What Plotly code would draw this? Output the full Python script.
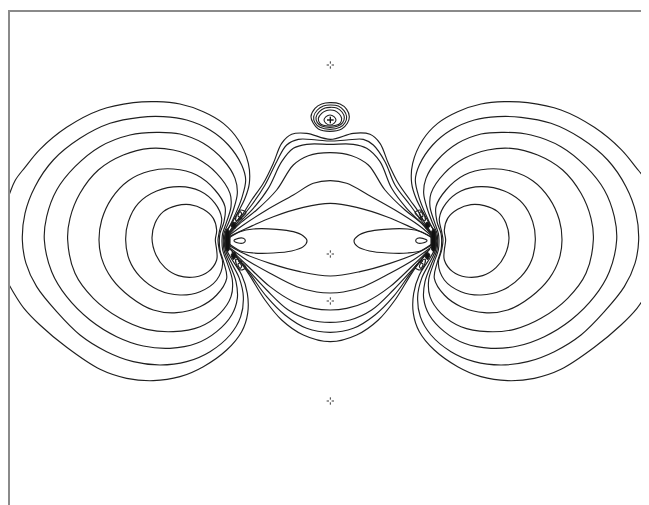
import plotly.graph_objects as go

# Lobe contours (units: 1/3 px, x from image left, y from image row 90)
lobe_1 = [(-15,450),(-5,380),(25,320),(45,272),(75,232),(120,178),(200,112),(300,60),(400,38),(470,35),(540,42),(610,65),(670,100),(715,150),(745,220),(748,280),(735,325),(715,365),(695,400),(680,425),(677,450),(680,480),(700,515),(725,555),(742,610),(743,670),(725,725),(680,780),(610,830),(540,860),(460,872),(380,865),(300,838),(200,772),(120,705),(72,655),(45,615),(25,580),(-5,520),(-15,450)]
lobe_2 = [(67,450),(75,370),(105,290),(160,210),(240,145),(330,100),(420,82),(490,80),(560,90),(630,120),(685,165),(725,225),(737,270),(725,325),(705,375),(688,410),(676,430),(673,450),(676,480),(695,520),(718,565),(730,620),(722,680),(690,735),(630,785),(560,815),(480,825),(400,815),(320,785),(240,735),(170,665),(110,590),(78,520),(67,450)]
lobe_3 = [(133,450),(140,380),(170,300),(225,230),(300,170),(390,135),(470,127),(540,132),(610,160),(670,210),(705,265),(712,310),(700,360),(685,400),(672,430),(670,450),(672,480),(690,525),(708,575),(712,625),(695,675),(650,725),(590,760),(510,775),(430,768),(350,740),(270,690),(200,620),(155,545),(133,450)]
lobe_4 = [(203,450),(210,385),(240,310),(295,240),(370,195),(450,175),(520,180),(590,205),(650,250),(690,310),(693,350),(680,395),(668,430),(666,450),(668,480),(682,520),(697,570),(693,620),(660,670),(600,710),(520,725),(440,718),(360,685),(280,625),(225,550),(203,450)]
lobe_5 = [(297,450),(305,390),(335,325),(385,272),(450,243),(520,237),(590,255),(645,300),(675,350),(672,395),(660,430),(658,450),(660,480),(672,520),(680,565),(650,615),(600,650),(530,668),(460,660),(390,620),(335,565),(305,505),(297,450)]
lobe_6 = [(377,450),(385,395),(415,340),(470,303),(540,290),(600,303),(645,340),(665,385),(658,425),(654,450),(658,480),(668,520),(650,570),(600,605),(540,615),(475,600),(420,560),(388,510),(377,450)]
lobe_7 = [(456,445),(465,400),(490,365),(530,347),(570,344),(610,358),(640,385),(650,420),(646,450),(650,480),(650,510),(625,545),(585,561),(535,557),(495,533),(468,495),(456,445)]
lobes = [lobe_1, lobe_2, lobe_3, lobe_4, lobe_5, lobe_6, lobe_7]

# Central contours (units: 1/3 px, x from image column 210, y from image row 90)
top_1 = [(55,430),(75,400),(100,370),(125,330),(160,280),(190,220),(215,160),(245,133),(290,130),(361,148),(430,130),(480,133),(510,160),(535,220),(565,280),(600,330),(625,365),(645,400),(665,430)]
top_2 = [(55,432),(80,400),(125,345),(165,285),(200,215),(230,165),(265,148),(320,150),(361,153),(410,150),(460,148),(490,165),(525,215),(555,285),(600,345),(640,400),(665,432)]
top_3 = [(55,434),(85,400),(130,355),(175,295),(215,215),(250,175),(290,163),(361,163),(430,163),(470,175),(510,215),(545,295),(590,355),(635,400),(665,434)]
top_4 = [(55,436),(90,400),(140,360),(200,300),(250,225),(295,197),(361,188),(425,197),(475,225),(525,300),(585,360),(635,400),(665,436)]
top_5 = [(55,438),(100,405),(170,360),(250,315),(310,280),(361,272),(410,280),(475,315),(555,360),(625,405),(665,438)]
top_6 = [(55,441),(110,415),(190,380),(280,352),(361,340),(440,352),(530,380),(610,415),(665,441)]
bot_1 = [(55,465),(100,490),(180,520),(270,545),(361,558),(450,545),(540,520),(620,490),(665,465)]
bot_2 = [(55,470),(110,510),(180,550),(260,590),(320,606),(361,609),(400,606),(460,590),(540,550),(610,510),(665,470)]
bot_3 = [(60,477),(110,525),(180,590),(250,635),(310,655),(361,660),(410,655),(470,635),(540,590),(610,525),(660,477)]
bot_4 = [(65,485),(110,535),(170,600),(235,660),(300,690),(361,697),(420,690),(485,660),(550,600),(610,535),(655,485)]
bot_5 = [(70,490),(115,545),(170,620),(225,675),(290,715),(361,727),(430,715),(495,675),(550,620),(605,545),(650,490)]
bot_6 = [(75,495),(115,550),(165,630),(215,690),(280,735),(361,755),(440,735),(505,690),(555,630),(605,550),(645,495)]
centre = [top_1, top_2, top_3, top_4, top_5, top_6, bot_1, bot_2, bot_3, bot_4, bot_5, bot_6]

# Features repeated on both sides (same units as central contours, left copy)
tongue = [(55,445),(90,425),(130,417),(200,418),(250,425),(280,438),(291,452),(280,470),(245,483),(190,489),(130,489),(90,482),(55,460)]
eye = [(72,452),(85,445),(100,445),(106,452),(100,459),(85,459),(72,452)]
web_up = [(85,388),(95,372),(90,365),(84,378),(96,385),(85,388)]
web_up2 = [(78,392),(100,378),(108,368),(92,360),(80,375),(78,392)]
web_dn = [(85,512),(95,528),(90,535),(84,522),(96,515),(85,512)]
web_dn2 = [(78,508),(100,522),(108,532),(92,540),(80,525),(78,508)]
blob_bar = [(47,425),(52,417),(58,425),(60,450),(58,478),(52,484),(47,478),(46,450),(47,425)]
blob_up = [(64,408),(70,396),(78,405),(74,415),(64,408)]
blob_dn = [(64,494),(70,508),(78,498),(74,488),(64,494)]

# Rings of the small upper feature (same units as central contours)
ring_1 = [(303,80),(315,55),(335,42),(360,38),(390,42),(410,58),(418,80),(412,100),(395,117),(360,124),(325,117),(310,100),(303,80)]
ring_2 = [(311,80),(322,60),(340,48),(360,45),(385,48),(402,62),(410,80),(405,98),(390,112),(360,118),(330,112),(315,98),(311,80)]
ring_3 = [(318,82),(328,65),(345,54),(360,52),(380,54),(396,66),(403,82),(398,98),(384,108),(360,112),(335,108),(322,98),(318,82)]
ring_4 = [(325,85),(335,70),(348,62),(360,60),(375,62),(388,72),(395,85),(390,100),(378,106),(360,108),(340,106),(330,100),(325,85)]
ring_5 = [(342,90),(348,80),(360,75),(372,80),(378,90),(372,100),(360,105),(348,100),(342,90)]
rings = [ring_1, ring_2, ring_3, ring_4, ring_5]

# Small four-point crosses: centres
cross_centres = [(361,-75),(361,492),(361,633),(361,933)]
nucleus_centre = (361,90)

LINE = "#1f1f1f"
AXIS = "#8a8a8a"
SHIFT = 630      # central-units column 0 sits at image column 210
MIRROR = 1983    # axis of symmetry at image column 330.5

fig = go.Figure()

def curve(pts, dx=0, mirror=False, width=1.15, fill=False, smooth=True):
    xs = [p[0] + dx for p in pts]
    if mirror:
        xs = [MIRROR - x for x in xs]
    fig.add_trace(go.Scatter(
        x=xs, y=[p[1] for p in pts], mode="lines",
        line=dict(color=LINE, width=width, shape="spline" if smooth else "linear", smoothing=1.0),
        fill="toself" if fill else None,
        fillcolor="#111111" if fill else None,
        hoverinfo="skip", showlegend=False))

for c in lobes:
    curve(c)
    curve(c, mirror=True)
for c in centre:
    curve(c, dx=SHIFT)
for c in (tongue, eye, web_up, web_up2, web_dn, web_dn2):
    curve(c, dx=SHIFT)
    curve(c, dx=SHIFT, mirror=True)
for c in (blob_bar, blob_up, blob_dn):
    curve(c, dx=SHIFT, fill=True)
    curve(c, dx=SHIFT, mirror=True, fill=True)
for c in rings:
    curve(c, dx=SHIFT, width=1.1)

# crosses drawn as four short arms around each centre
arm_near, arm_far = 4, 11
xs, ys = [], []
for cx, cy in cross_centres:
    cx += SHIFT
    for ax, ay in ((1,0),(-1,0),(0,1),(0,-1)):
        xs += [cx + ax*arm_near, cx + ax*arm_far, None]
        ys += [cy + ay*arm_near, cy + ay*arm_far, None]
fig.add_trace(go.Scatter(x=xs, y=ys, mode="lines", line=dict(color=LINE, width=0.9),
                         hoverinfo="skip", showlegend=False))

# solid cross at the centre of the rings
cx, cy = nucleus_centre
cx += SHIFT
fig.add_trace(go.Scatter(x=[cx-10, cx+10, None, cx, cx], y=[cy, cy, None, cy-10, cy+10], mode="lines",
                         line=dict(color="#111111", width=1.4), hoverinfo="skip", showlegend=False))

axis_common = dict(showgrid=False, zeroline=False, showticklabels=False, ticks="",
                   showline=True, linecolor=AXIS, linewidth=2)
fig.update_layout(
    width=641, height=497, autosize=False,
    margin=dict(l=2, r=3, t=4, b=0),
    paper_bgcolor="white", plot_bgcolor="white",
    xaxis=dict(range=[30, 1938], side="top", **axis_common),
    yaxis=dict(range=[1245, -234], side="left", **axis_common),
)
fig.write_html("out.html", config={"displayModeBar": False})
